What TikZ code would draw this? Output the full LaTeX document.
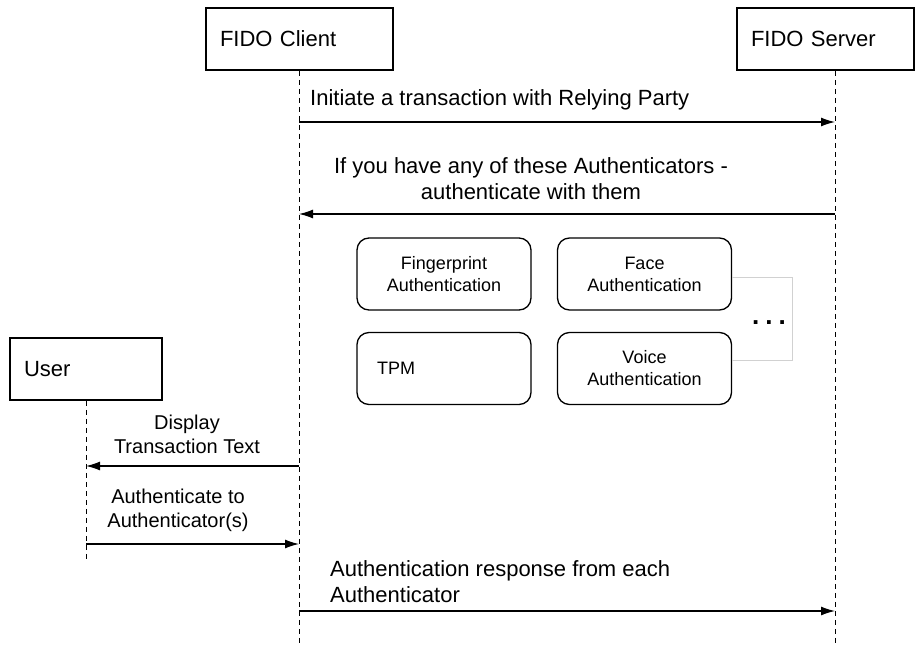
\documentclass[tikz,border=0pt]{standalone}
\usepackage{fontspec}
\setmainfont{Liberation Sans}
\usetikzlibrary{arrows.meta, calc, positioning}
\tikzset{
    actorBox/.style={draw, line width=1.5pt, minimum height=62pt, inner xsep=14pt, text width=#1, align=left, font=\fontsize{22}{26}\selectfont},
    authBox/.style={draw, rounded corners=12pt, line width=1.3pt, minimum width=174pt, minimum height=72pt, align=center, font=\fontsize{18}{22}\selectfont},
    lifeLine/.style={line width=0.9pt, dash pattern=on 5pt off 4pt},
    msgEdge/.style={-{Latex[length=14pt, width=9pt]}, line width=1.3pt},
    msgText/.style={align=center, inner sep=0pt, font=\fontsize{22}{26}\selectfont},
    userText/.style={msgText, font=\fontsize{20}{24}\selectfont},
    moreLine/.style={draw=black!18, line width=1pt},
}
\newcommand{\drawMsg}[2]{
    \draw[msgEdge] (#1) -- (#2);
}

\begin{document}
\begin{tikzpicture}[x=1pt, y=-1pt]
        \useasboundingbox (0,0) rectangle (915,645);

        \node[actorBox=159pt] (client) at (299.5,39) {FIDO Client};
        \node[actorBox=149pt] (server) at (825.5,39) {FIDO Server};
        \node[actorBox=124pt] (user) at (86,369) {User};

        \coordinate (clientEnd) at (299,645);
        \coordinate (serverEnd) at (835,645);
        \coordinate (userEnd) at (86,562);
        \draw[lifeLine] (client.south -| clientEnd) -- (clientEnd);
        \draw[lifeLine] (server.south -| serverEnd) -- (serverEnd);
        \draw[lifeLine] (user.south) -- (userEnd);

        \foreach \y [count=\i] in {122,214,466,544,611} {
            \coordinate (c\i) at (299,\y);
            \coordinate (s\i) at (835,\y);
            \coordinate (u\i) at (86,\y);
        }

        \drawMsg{c1}{s1}
        \drawMsg{s2}{c2}
        \drawMsg{c3}{u3}
        \drawMsg{u4}{c4}
        \drawMsg{c5}{s5}

        \node[msgText, anchor=west] (msgInit) at (310,100) {Initiate a transaction with Relying Party};
        \node[msgText] (msgAsk) at (531,179) {If you have any of these Authenticators -\\authenticate with them};
        \node[userText] (msgShow) at (187,434) {Display\\Transaction Text};
        \node[userText] (msgAuth) at (178,510) {Authenticate to\\Authenticator(s)};
        \node[msgText, anchor=west, align=left] (msgResp) at (330,582) {Authentication response from each\\Authenticator};

        % authenticators
        \node[authBox] (finger) at (444,274) {Fingerprint\\Authentication};
        \node[authBox] (face) at (644.5,274) {Face\\Authentication};
        \node[authBox, align=left, text width=134pt] (tpm) at (444,368.5) {TPM};
        \node[authBox] (voice) at (644.5,368.5) {Voice\\Authentication};

        \draw[moreLine] ($(face.east)+(0,3)$) -- ++(60,0) |- ($(voice.east)+(0,-8.5)$);
        \node[font=\bfseries\fontsize{26}{26}\selectfont, inner sep=0pt] (more) at (769,323) {.\hspace{6pt}.\hspace{6pt}.};

    \end{tikzpicture}
\end{document}
